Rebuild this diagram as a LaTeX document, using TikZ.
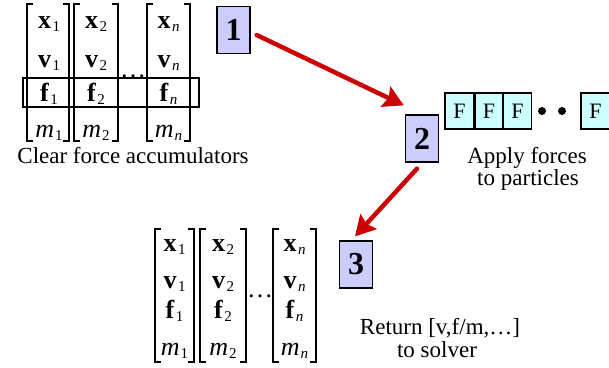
\documentclass[tikz,border=0pt]{standalone}
\usepackage{fontspec}
\setmainfont{Liberation Serif}
\usetikzlibrary{arrows.meta,calc}
\definecolor{lav}{RGB}{204,204,255}
\definecolor{cyanl}{RGB}{204,255,255}
\definecolor{arred}{RGB}{204,0,0}
\newcommand\bv[2]{{\bfseries #1}\kern1.5pt\raisebox{-3pt}{\fontsize{15}{15}\selectfont #2}}
\newcommand\mm[1]{{\itshape m}\kern1pt\raisebox{-3pt}{\fontsize{15}{15}\selectfont #1}}
\newcommand\colm[7]{%
 \node[ent] (#1x) at (#2,#4) {\bv{x}{#3}};
 \node[ent] (#1v) at (#2,#5) {\bv{v}{#3}};
 \node[ent] (#1f) at (#2,#6) {\bv{f}{#3}};
 \node[ent] (#1m) at (#2,#7) {\mm{#3}};}
\newcommand\brk[4]{%
 \draw[brk] ({#1+6},#3) -- (#1,#3) -- (#1,#4) -- ({#1+6},#4);
 \draw[brk] ({#2-6},#3) -- (#2,#3) -- (#2,#4) -- ({#2-6},#4);}
\tikzset{
 ent/.style={anchor=base,inner sep=0pt,font=\fontsize{26}{26}\selectfont},
 brk/.style={line width=1.6pt},
 numbox/.style={draw,line width=1.3pt,fill=lav,minimum width=33pt,minimum height=47pt,inner sep=0pt,font=\fontsize{32}{32}\selectfont\bfseries},
 fbox/.style={draw,line width=1.3pt,fill=cyanl,minimum height=36pt,inner sep=0pt,font=\fontsize{22}{22}\selectfont},
 lbl/.style={anchor=base,inner sep=0pt,font=\fontsize{23}{23}\selectfont},
 arr/.style={draw=arred,line width=4.5pt,line cap=round,-{Stealth[length=20pt,width=22pt,inset=3pt]}},
}
\begin{document}
\begin{tikzpicture}[x=1pt,y=-1pt]
\useasboundingbox (0,0) rectangle (609,367);
% top matrices
\brk{27}{69}{4}{141}
\brk{74}{118}{4}{141}
\brk{147}{190}{4}{141}
\colm{ta}{49}{1}{28}{67}{101}{137}
\colm{tb}{96}{2}{28}{67}{101}{137}
\colm{tc}{168.5}{{\itshape n}}{28}{67}{101}{137}
\node[ent] (tdots) at (133,77) {\dots};
\draw[line width=1.6pt] (23,78) rectangle (199,107);
\node[lbl] (clear) at (133,163) {Clear force accumulators};
% bottom matrices
\brk{155}{194}{229}{362}
\brk{200}{246}{229}{362}
\brk{273}{316}{229}{362}
\colm{ba}{174.5}{1}{251}{288}{318}{355}
\colm{bb}{223}{2}{251}{288}{318}{355}
\colm{bc}{294.5}{{\itshape n}}{251}{288}{318}{355}
\node[ent] (bdots) at (260,297) {\dots};
% number boxes
\node[numbox] (b1) at (233.5,30) {1};
\node[numbox] (b2) at (422,138.5) {2};
\node[numbox] (b3) at (356,264.5) {3};
% force boxes
\node[fbox,minimum width=29pt] (f1) at (459.5,111) {F};
\node[fbox,minimum width=28pt] (f2) at (489,111) {F};
\node[fbox,minimum width=28pt] (f3) at (517.5,111) {F};
\node[fbox,minimum width=29pt] (f4) at (595.5,111) {F};
\fill (542,111) circle (4pt);
\fill (562,111) circle (4pt);
\node[lbl] (apply1) at (527,163) {Apply forces};
\node[lbl] (apply2) at (528,185) {to particles};
\node[lbl] (ret1) at (440,334) {Return [v,f/m,\dots]};
\node[lbl] (ret2) at (437,357) {to solver};
% arrows
\draw[arr] ($(b1.east)+(6,5)$) -- ($(b2.north west)+(-1,-9)$);
\draw[arr] ($(b2.south)+(-5,6)$) -- ($(b3.north)+(-1,-4)$);
\end{tikzpicture}
\end{document}
